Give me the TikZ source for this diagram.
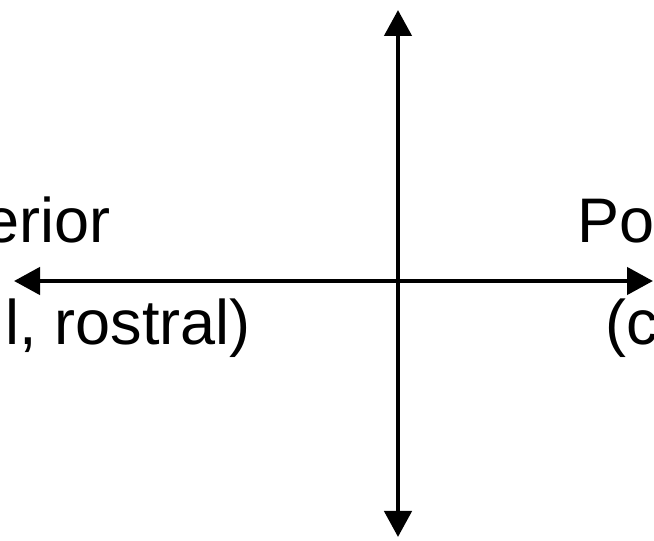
\documentclass[tikz,border=0pt]{standalone}
\usepackage{fontspec}
\setmainfont{Liberation Sans}
\usetikzlibrary{arrows.meta}
\begin{document}
\begin{tikzpicture}[x=1pt,y=1pt,
  axis/.style={line width=4.6pt,{Triangle[length=26pt,width=27pt]}-{Triangle[length=26pt,width=27pt]}},
  lbl/.style={inner sep=0pt, font=\fontsize{63}{63}\selectfont}]
\useasboundingbox (0,0) rectangle (654,541);
\clip (0,0) rectangle (654,541);
\coordinate (top) at (398,531);
\coordinate (bot) at (398,4);
\coordinate (left) at (14,260);
\coordinate (right) at (653,260);
\draw[axis] (bot) -- (top);
\draw[axis] (left) -- (right);
\node[lbl, anchor=base east] (ant) at (111,298) {erior};
\node[lbl, anchor=base east] (antsub) at (251,196) {l, rostral)};
\node[lbl, anchor=base west] (post) at (577,298) {Po};
\node[lbl, anchor=base west] (postsub) at (605.5,196) {(c};
\end{tikzpicture}
\end{document}
